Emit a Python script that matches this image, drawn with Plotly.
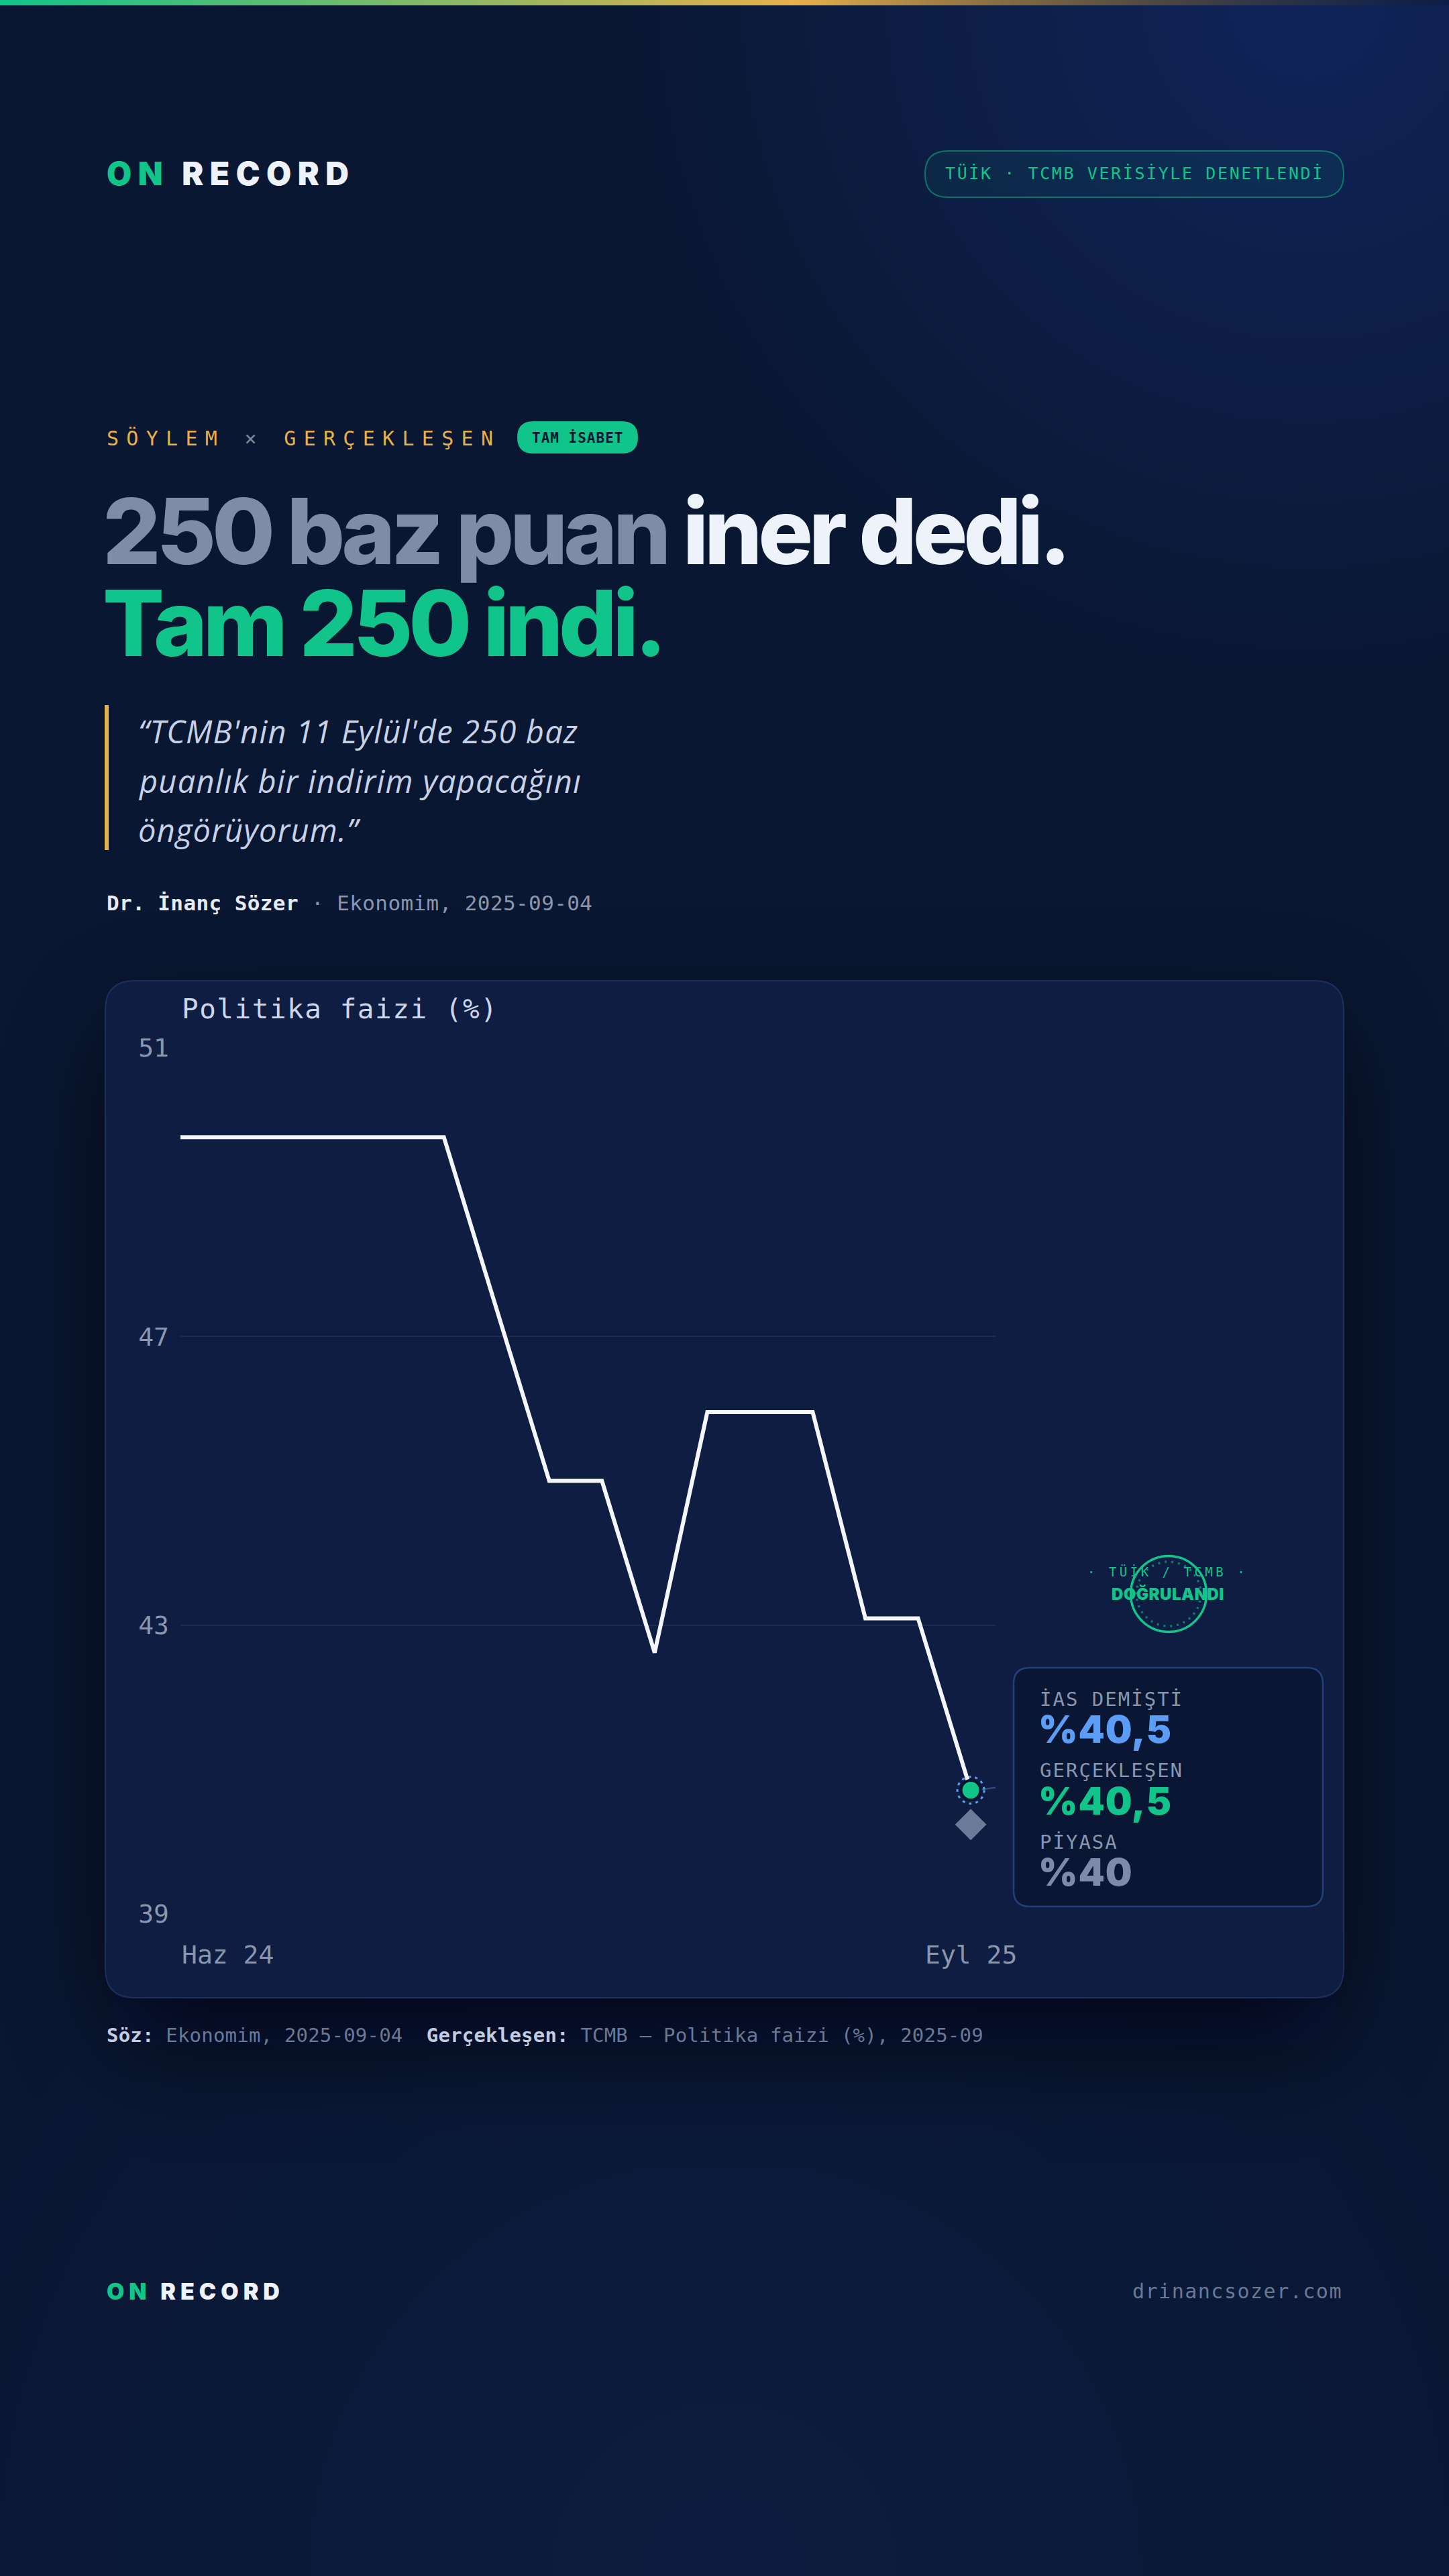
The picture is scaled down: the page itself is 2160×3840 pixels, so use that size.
import base64
import plotly.graph_objects as go

# ---- data ----
months = ["Haz 24", "Tem 24", "Ağu 24", "Eyl 24", "Eki 24", "Kas 24", "Ara 24", "Oca 25",
          "Şub 25", "Mar 25", "Nis 25", "May 25", "Haz 25", "Tem 25", "Ağu 25", "Eyl 25"]
policy_rate = [50, 50, 50, 50, 50, 50, 47.5, 45, 45, 42.5, 46, 46, 46, 43, 43, 40.5]
claimed_rate = 40.5   # İAS demişti
actual_rate = 40.5    # gerçekleşen
market_rate = 40.0    # piyasa
y_ticks = [38.7, 42.9, 47.1, 51.3]
y_tick_labels = ["39", "43", "47", "51"]

W, H = 2160, 3840
MONO = "DejaVu Sans Mono"
SANS = "Inter"
GREEN = "#10c48a"
GOLD = "#e8b04a"
BLUE = "#5b9cf5"
MUTED = "#8a96ae"


def px(x):
    return x / W


def py(y):
    return 1 - y / H


def rrect(x0, y0, x1, y1, r):
    # rounded rectangle path in paper coords, input in pixels (y down)
    return (f"M {px(x0 + r)},{py(y0)} L {px(x1 - r)},{py(y0)} Q {px(x1)},{py(y0)} {px(x1)},{py(y0 + r)} "
            f"L {px(x1)},{py(y1 - r)} Q {px(x1)},{py(y1)} {px(x1 - r)},{py(y1)} "
            f"L {px(x0 + r)},{py(y1)} Q {px(x0)},{py(y1)} {px(x0)},{py(y1 - r)} "
            f"L {px(x0)},{py(y0 + r)} Q {px(x0)},{py(y0)} {px(x0 + r)},{py(y0)} Z")


def pct(v):
    return "%" + f"{v:g}".replace(".", ",")


annotations = []


def txt(s, x, y, size, color, family=MONO, anchor="left", weight=None, ls=None, italic=False):
    if ls is not None:
        s = f'<span style="letter-spacing:{ls}px">{s}</span>'
    font = dict(family=family, size=size, color=color)
    if weight:
        font["weight"] = weight
    if italic:
        font["style"] = "italic"
    annotations.append(dict(text=s, x=px(x), y=py(y), xref="paper", yref="paper",
                            xanchor=anchor, yanchor="middle", showarrow=False, font=font))


# ---- background (gradient glow, top bar, card shadow) ----
bg_svg = f'''<svg xmlns="http://www.w3.org/2000/svg" width="{W}" height="{H}" viewBox="0 0 {W} {H}" preserveAspectRatio="none">
<defs>
<radialGradient id="glow" gradientUnits="userSpaceOnUse" cx="1950" cy="0" r="1050">
<stop offset="0" stop-color="#10245a" stop-opacity="1"/><stop offset="1" stop-color="#10245a" stop-opacity="0"/></radialGradient>
<radialGradient id="glow2" gradientUnits="userSpaceOnUse" cx="1080" cy="3840" r="1400">
<stop offset="0" stop-color="#0c1c40" stop-opacity="1"/><stop offset="1" stop-color="#0c1c40" stop-opacity="0"/></radialGradient>
<linearGradient id="bar" x1="0" y1="0" x2="1" y2="0">
<stop offset="0" stop-color="#10c48a"/><stop offset="0.55" stop-color="#e8b04a"/><stop offset="1" stop-color="#0a1732" stop-opacity="0.4"/></linearGradient>
<filter id="blur" x="-40%" y="-40%" width="180%" height="180%"><feGaussianBlur stdDeviation="80"/></filter>
</defs>
<rect width="{W}" height="{H}" fill="#0a1732"/>
<rect width="{W}" height="{H}" fill="url(#glow)"/>
<rect width="{W}" height="{H}" fill="url(#glow2)"/>
<rect x="170" y="1530" width="1820" height="1520" rx="60" fill="#02060f" opacity="0.7" filter="url(#blur)"/>
<rect x="0" y="0" width="{W}" height="8" fill="url(#bar)"/>
</svg>'''
bg_uri = "data:image/svg+xml;base64," + base64.b64encode(bg_svg.encode("utf-8")).decode()

shapes = [
    # chart card
    dict(type="path", path=rrect(157, 1462, 2003, 2978, 44), xref="paper", yref="paper",
         fillcolor="#0e1d41", line=dict(color="#1d2f5a", width=2), layer="below"),
    # header badge
    dict(type="path", path=rrect(1379, 225, 2003, 294, 34), xref="paper", yref="paper",
         fillcolor="rgba(16,196,138,0.08)", line=dict(color="rgba(16,196,138,0.5)", width=2), layer="below"),
    # TAM İSABET pill
    dict(type="path", path=rrect(771, 628, 951, 676, 24), xref="paper", yref="paper",
         fillcolor=GREEN, line=dict(width=0), layer="below"),
    # quote bar
    dict(type="rect", x0=px(156), x1=px(162), y0=py(1267), y1=py(1051), xref="paper", yref="paper",
         fillcolor=GOLD, line=dict(width=0), layer="below"),
    # callout box
    dict(type="path", path=rrect(1511, 2486, 1972, 2842, 24), xref="paper", yref="paper",
         fillcolor="#0a1734", line=dict(color="#24407a", width=2.5), layer="below"),
    # connector from dot to box
    dict(type="line", xref="x", yref="y", xsizemode="pixel", ysizemode="pixel",
         xanchor=len(months) - 1, yanchor=actual_rate, x0=16, x1=62, y0=1, y1=7,
         line=dict(color="#2a4a80", width=2.5), layer="below"),
    # halo around the actual dot
    dict(type="circle", xref="x", yref="y", xsizemode="pixel", ysizemode="pixel",
         xanchor=len(months) - 1, yanchor=actual_rate, x0=-20, x1=20, y0=-20, y1=20,
         line=dict(color=BLUE, width=3, dash="4px,6px"), layer="below"),
    # stamp
    dict(type="circle", xref="paper", yref="paper", x0=px(1742 - 56.5), x1=px(1742 + 56.5),
         y0=py(2376 + 56.5), y1=py(2376 - 56.5), line=dict(color=GREEN, width=3.5), layer="below"),
    dict(type="circle", xref="paper", yref="paper", x0=px(1742 - 48), x1=px(1742 + 48),
         y0=py(2376 + 48), y1=py(2376 - 48), line=dict(color="rgba(16,196,138,0.55)", width=3.5, dash="3px,7px"),
         layer="below"),
]

# ---- text ----
txt('<span style="color:#10c48a">ON </span>RECORD', 157, 259, 48, "#eef2fa", family=SANS, weight=900, ls=9.5)
txt("TÜİK · TCMB VERİSİYLE DENETLENDİ", 1691, 259, 25, GREEN, anchor="center", ls=2.6)

txt('SÖYLEM <span style="color:#7d879c">×</span> GERÇEKLEŞEN', 157, 653, 30, GOLD, ls=11.3)
txt("TAM İSABET", 861, 652, 21, "#0a1733", anchor="center", weight=700, ls=1)

txt('<span style="color:#7f8ca8">250 baz puan</span> iner dedi.', 151, 791, 136, "#eef2fa",
    family=SANS, weight=800, ls=-6.2)
txt("Tam 250 indi.", 151, 928, 136, GREEN, family=SANS, weight=800, ls=-6.2)

quote_lines = ["“TCMB'nin 11 Eylül'de 250 baz", "puanlık bir indirim yapacağını", "öngörüyorum.”"]
for i, line in enumerate(quote_lines):
    txt(line, 204, 1090 + i * 73.5, 47, "#c8d2e6", family="Open Sans", weight=400, italic=True, ls=1.2)

txt('<span style="font-weight:700;color:#e6ebf5">Dr. İnanç Sözer</span> · Ekonomim, 2025-09-04',
    157, 1346, 31, MUTED, ls=0.4)

txt("Politika faizi (%)", 269, 1504, 41, "#cdd6e8", ls=1.5)

txt("İAS DEMİŞTİ", 1548, 2533, 29, MUTED, ls=2)
txt(pct(claimed_rate), 1546, 2578, 56, BLUE, family=SANS, weight=900, ls=1)
txt("GERÇEKLEŞEN", 1548, 2639, 29, MUTED, ls=2)
txt(pct(actual_rate), 1546, 2685, 56, GREEN, family=SANS, weight=900, ls=1)
txt("PİYASA", 1548, 2746, 29, MUTED, ls=2)
txt(pct(market_rate), 1546, 2791, 56, "#7d8aa8", family=SANS, weight=900, ls=1)

txt("· TÜİK / TCMB ·", 1740, 2343, 19, GREEN, anchor="center", ls=4.5)
txt("DOĞRULANDI", 1741, 2376, 24, GREEN, family=SANS, weight=900, anchor="center", ls=0.5)

txt('<span style="font-weight:700;color:#c3cbe0">Söz:</span> Ekonomim, 2025-09-04\u00a0 '
    '<span style="font-weight:700;color:#c3cbe0">Gerçekleşen:</span> TCMB — Politika faizi (%), 2025-09',
    157, 3034, 29, "#6b7894", ls=0.2)

txt('<span style="color:#10c48a">ON </span>RECORD', 157, 3415, 34, "#eef2fa", family=SANS, weight=900, ls=7)
txt("drinancsozer.com", 2003, 3415, 30, "#6b7894", anchor="right", ls=1.5)

# x labels: first and last month
for i, anchor in [(0, "left"), (len(months) - 1, "center")]:
    annotations.append(dict(text=months[i], x=i, y=py(2914), xref="x", yref="paper", xanchor=anchor,
                            yanchor="middle", showarrow=False, font=dict(family=MONO, size=38, color=MUTED)))

# ---- traces ----
x_idx = list(range(len(months)))
fig = go.Figure()
fig.add_trace(go.Scatter(x=x_idx, y=policy_rate, mode="lines",
                         line=dict(color="#f4f6fb", width=6), hoverinfo="skip"))
fig.add_trace(go.Scatter(x=[x_idx[-1]], y=[market_rate], mode="markers",
                         marker=dict(symbol="diamond", size=36, color="#6b7a99"), hoverinfo="skip"))
fig.add_trace(go.Scatter(x=[x_idx[-1]], y=[actual_rate], mode="markers",
                         marker=dict(size=29, color=GREEN, line=dict(color="#0a1530", width=4)),
                         hoverinfo="skip"))

fig.update_layout(
    width=W, height=H,
    margin=dict(l=0, r=0, t=0, b=0, autoexpand=False),
    paper_bgcolor="#0a1732",
    plot_bgcolor="rgba(0,0,0,0)",
    showlegend=False,
    images=[dict(source=bg_uri, xref="paper", yref="paper", x=0, y=1, sizex=1, sizey=1,
                 sizing="stretch", xanchor="left", yanchor="top", layer="below")],
    shapes=shapes,
    annotations=annotations,
    xaxis=dict(domain=[px(269), px(1484)], range=[0, len(months) - 1 + 0.47], automargin=False,
               showgrid=False, zeroline=False, showticklabels=False, fixedrange=True),
    yaxis=dict(domain=[py(2853), py(1562)], range=[y_ticks[0], y_ticks[-1]], automargin=False,
               tickvals=y_ticks, ticktext=y_tick_labels, showgrid=True, gridcolor="#1c2b52",
               gridwidth=2, zeroline=False, ticks="", ticklabelstandoff=16,
               tickfont=dict(family=MONO, size=38, color=MUTED), fixedrange=True),
)

page_fix = ("document.documentElement.style.margin='0';document.body.style.margin='0';"
            "document.body.style.overflow='hidden';"
            "var d=document.getElementById('{plot_id}');d.style.position='absolute';"
            "d.style.top='0';d.style.left='0';")
fig.write_html("out.html", config={"displayModeBar": False}, post_script=page_fix)
